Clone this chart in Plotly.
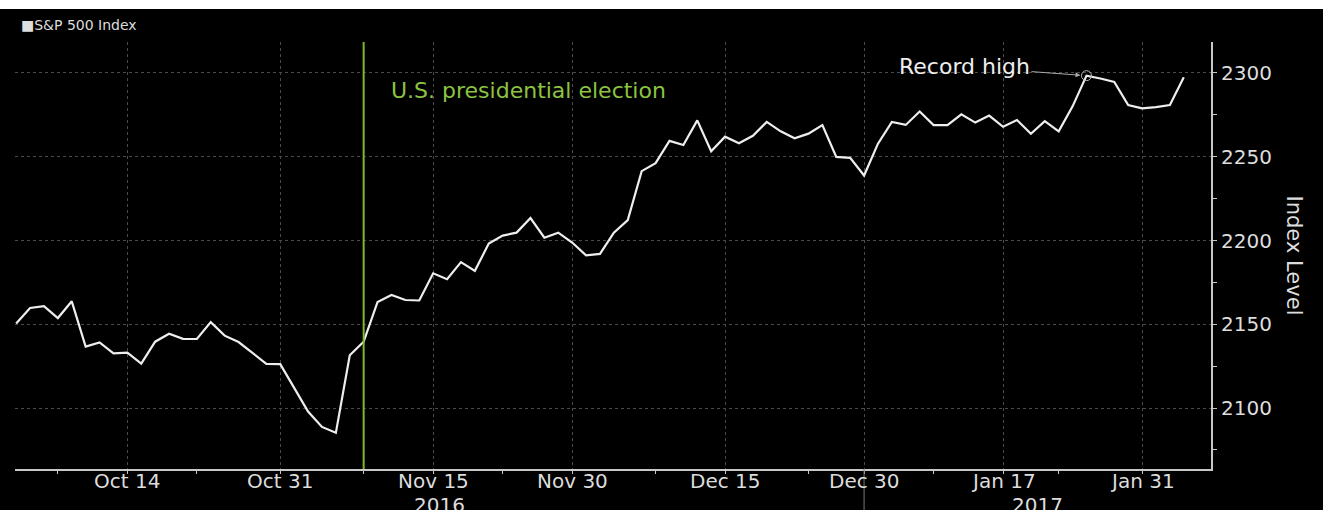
import plotly.graph_objects as go

# ---- data ----
dates = [
    "2016-10-04", "2016-10-05", "2016-10-06", "2016-10-07", "2016-10-10", "2016-10-11",
    "2016-10-12", "2016-10-13", "2016-10-14", "2016-10-17", "2016-10-18", "2016-10-19",
    "2016-10-20", "2016-10-21", "2016-10-24", "2016-10-25", "2016-10-26", "2016-10-27",
    "2016-10-28", "2016-10-31", "2016-11-01", "2016-11-02", "2016-11-03", "2016-11-04",
    "2016-11-07", "2016-11-08", "2016-11-09", "2016-11-10", "2016-11-11", "2016-11-14",
    "2016-11-15", "2016-11-16", "2016-11-17", "2016-11-18", "2016-11-21", "2016-11-22",
    "2016-11-23", "2016-11-25", "2016-11-28", "2016-11-29", "2016-11-30", "2016-12-01",
    "2016-12-02", "2016-12-05", "2016-12-06", "2016-12-07", "2016-12-08", "2016-12-09",
    "2016-12-12", "2016-12-13", "2016-12-14", "2016-12-15", "2016-12-16", "2016-12-19",
    "2016-12-20", "2016-12-21", "2016-12-22", "2016-12-23", "2016-12-27", "2016-12-28",
    "2016-12-29", "2016-12-30", "2017-01-03", "2017-01-04", "2017-01-05", "2017-01-06",
    "2017-01-09", "2017-01-10", "2017-01-11", "2017-01-12", "2017-01-13", "2017-01-17",
    "2017-01-18", "2017-01-19", "2017-01-20", "2017-01-23", "2017-01-24", "2017-01-25",
    "2017-01-26", "2017-01-27", "2017-01-30", "2017-01-31", "2017-02-01", "2017-02-02",
    "2017-02-03",
]
spx = [
    2150.5, 2159.7, 2160.8, 2153.7, 2163.7, 2136.7,
    2139.2, 2132.6, 2133.0, 2126.5, 2139.6, 2144.3,
    2141.3, 2141.2, 2151.3, 2143.2, 2139.4, 2133.0,
    2126.4, 2126.2, 2111.7, 2097.9, 2088.7, 2085.2,
    2131.5, 2139.6, 2163.3, 2167.5, 2164.5, 2164.2,
    2180.4, 2176.9, 2187.1, 2181.9, 2198.2, 2202.9,
    2204.7, 2213.4, 2201.7, 2204.7, 2198.8, 2191.1,
    2192.0, 2204.7, 2212.2, 2241.4, 2246.2, 2259.5,
    2257.0, 2271.7, 2253.3, 2262.0, 2258.1, 2262.5,
    2270.8, 2265.2, 2261.0, 2263.8, 2268.9, 2249.9,
    2249.3, 2238.8, 2257.8, 2270.8, 2269.0, 2277.0,
    2268.9, 2268.9, 2275.3, 2270.4, 2274.6, 2267.9,
    2271.9, 2263.7, 2271.3, 2265.2, 2280.1, 2298.4,
    2296.7, 2294.7, 2280.9, 2278.9, 2279.6, 2280.9,
    2297.4,
]
holidays = ["2016-11-24", "2016-12-26", "2017-01-02", "2017-01-16"]

major_ticks = ["2016-10-14", "2016-10-31", "2016-11-15", "2016-11-30",
               "2016-12-15", "2016-12-30", "2017-01-17", "2017-01-31"]
major_labels = ["Oct 14", "Oct 31", "Nov 15", "Nov 30",
                "Dec 15", "Dec 30", "Jan 17", "Jan 31"]
minor_ticks = ["2016-10-07", "2016-10-21", "2016-11-08", "2016-11-22",
               "2016-12-08", "2016-12-23", "2017-01-09", "2017-01-23"]
y_ticks = [2100, 2150, 2200, 2250, 2300]
y_minor = [2075, 2125, 2175, 2225, 2275]

election_date = "2016-11-08"
record_date = "2017-01-25"
record_value = 2298.4
year_split = "2016-12-30"
years = ["2016", "2017"]

FONT = "DejaVu Sans"
GRID = "#4a4a4a"
AXIS = "#c8c8c8"
GREEN = "#80b82e"
TXT = "#dddddd"

fig = go.Figure()
fig.add_trace(go.Scatter(
    x=dates, y=spx, mode="lines",
    line=dict(color="#eeeeee", width=2.2),
    hoverinfo="skip", showlegend=False,
))
fig.add_trace(go.Scatter(
    x=[record_date], y=[record_value], mode="markers",
    marker=dict(symbol="circle-open", size=10, color="#bbbbbb", line=dict(width=1)),
    hoverinfo="skip", showlegend=False,
))

# election line
fig.add_shape(type="line", xref="x", yref="paper",
              x0=election_date, x1=election_date, y0=0, y1=1,
              line=dict(color=GREEN, width=2))
# year separator below axis
fig.add_shape(type="line", xref="x", yref="paper",
              x0=year_split, x1=year_split, y0=0, y1=-0.12,
              line=dict(color="#777777", width=1))
# white strip at the very top (cut-off heading)
fig.add_shape(type="rect", xref="paper", yref="paper",
              x0=-0.02, x1=1.1, y0=1.0775, y1=1.12,
              fillcolor="white", line=dict(width=0), layer="above")

# x tick labels (placed close under the axis, as in the original)
for d, lab in zip(major_ticks, major_labels):
    fig.add_annotation(x=d, y=-0.0281, xref="x", yref="paper",
                       text=lab, showarrow=False, xanchor="center",
                       yanchor="middle",
                       font=dict(family=FONT, size=20, color=TXT))

fig.add_annotation(x=election_date, y=2289.5, xref="x", yref="y",
                   text="U.S. presidential election", showarrow=False,
                   xanchor="left", yanchor="middle", xshift=25,
                   font=dict(family=FONT, size=22, color="#8cc341"))
fig.add_annotation(x=record_date, y=record_value, xref="x", yref="y",
                   text="Record high", showarrow=True,
                   ax=-122, ay=-9, arrowhead=2, arrowsize=1, arrowwidth=1,
                   arrowcolor="#aaaaaa", standoff=6, xanchor="center",
                   font=dict(family=FONT, size=22, color="#eeeeee"))
fig.add_annotation(x=0.003, y=1.039, xref="paper", yref="paper",
                   text="\u25a0S&P 500 Index", showarrow=False,
                   xanchor="left", yanchor="middle",
                   font=dict(family=FONT, size=14, color=TXT))
fig.add_annotation(x=1.0702, y=0.5, xref="paper", yref="paper",
                   text="Index Level", showarrow=False, textangle=90,
                   xanchor="center", yanchor="middle",
                   font=dict(family=FONT, size=21, color=TXT))
fig.add_annotation(x=0.3553, y=-0.0845, xref="paper", yref="paper",
                   text=years[0], showarrow=False, xanchor="center",
                   yanchor="middle",
                   font=dict(family=FONT, size=20, color=TXT))
fig.add_annotation(x=0.855, y=-0.0845, xref="paper", yref="paper",
                   text=years[1], showarrow=False, xanchor="center",
                   yanchor="middle",
                   font=dict(family=FONT, size=20, color=TXT))

fig.update_layout(
    width=1323, height=510,
    margin=dict(l=15, r=112, t=42, b=41, autoexpand=False),
    paper_bgcolor="black", plot_bgcolor="black",
    font=dict(family=FONT, color=TXT),
    showlegend=False,
    xaxis=dict(
        type="date", automargin=False,
        range=["2016-10-03 22:00", "2017-02-06 23:00"],
        rangebreaks=[dict(bounds=["sat", "mon"]), dict(values=holidays)],
        tickmode="array", tickvals=major_ticks, showticklabels=False,
        ticks="outside", ticklen=3, tickcolor=AXIS, tickwidth=1,
        showgrid=True, gridcolor=GRID, griddash="dot", gridwidth=1,
        showline=True, linecolor=AXIS, linewidth=2,
        minor=dict(tickvals=minor_ticks, ticks="outside", ticklen=3,
                   tickcolor=AXIS, showgrid=False),
        zeroline=False, fixedrange=True,
    ),
    yaxis=dict(
        side="right", automargin=False,
        range=[2063.6, 2318.5],
        tickmode="array", tickvals=y_ticks,
        ticks="outside", ticklen=4, tickcolor=AXIS, tickwidth=1,
        tickfont=dict(family=FONT, size=20, color=TXT),
        showgrid=True, gridcolor=GRID, griddash="dot", gridwidth=1,
        showline=True, linecolor=AXIS, linewidth=2,
        minor=dict(tickvals=y_minor, ticks="outside", ticklen=4,
                   tickcolor=AXIS, showgrid=False),
        zeroline=False, fixedrange=True,
    ),
)

fig.write_html(
    "out.html",
    config={"displayModeBar": False},
    post_script="document.body.style.margin='0';document.body.style.background='black';",
)
